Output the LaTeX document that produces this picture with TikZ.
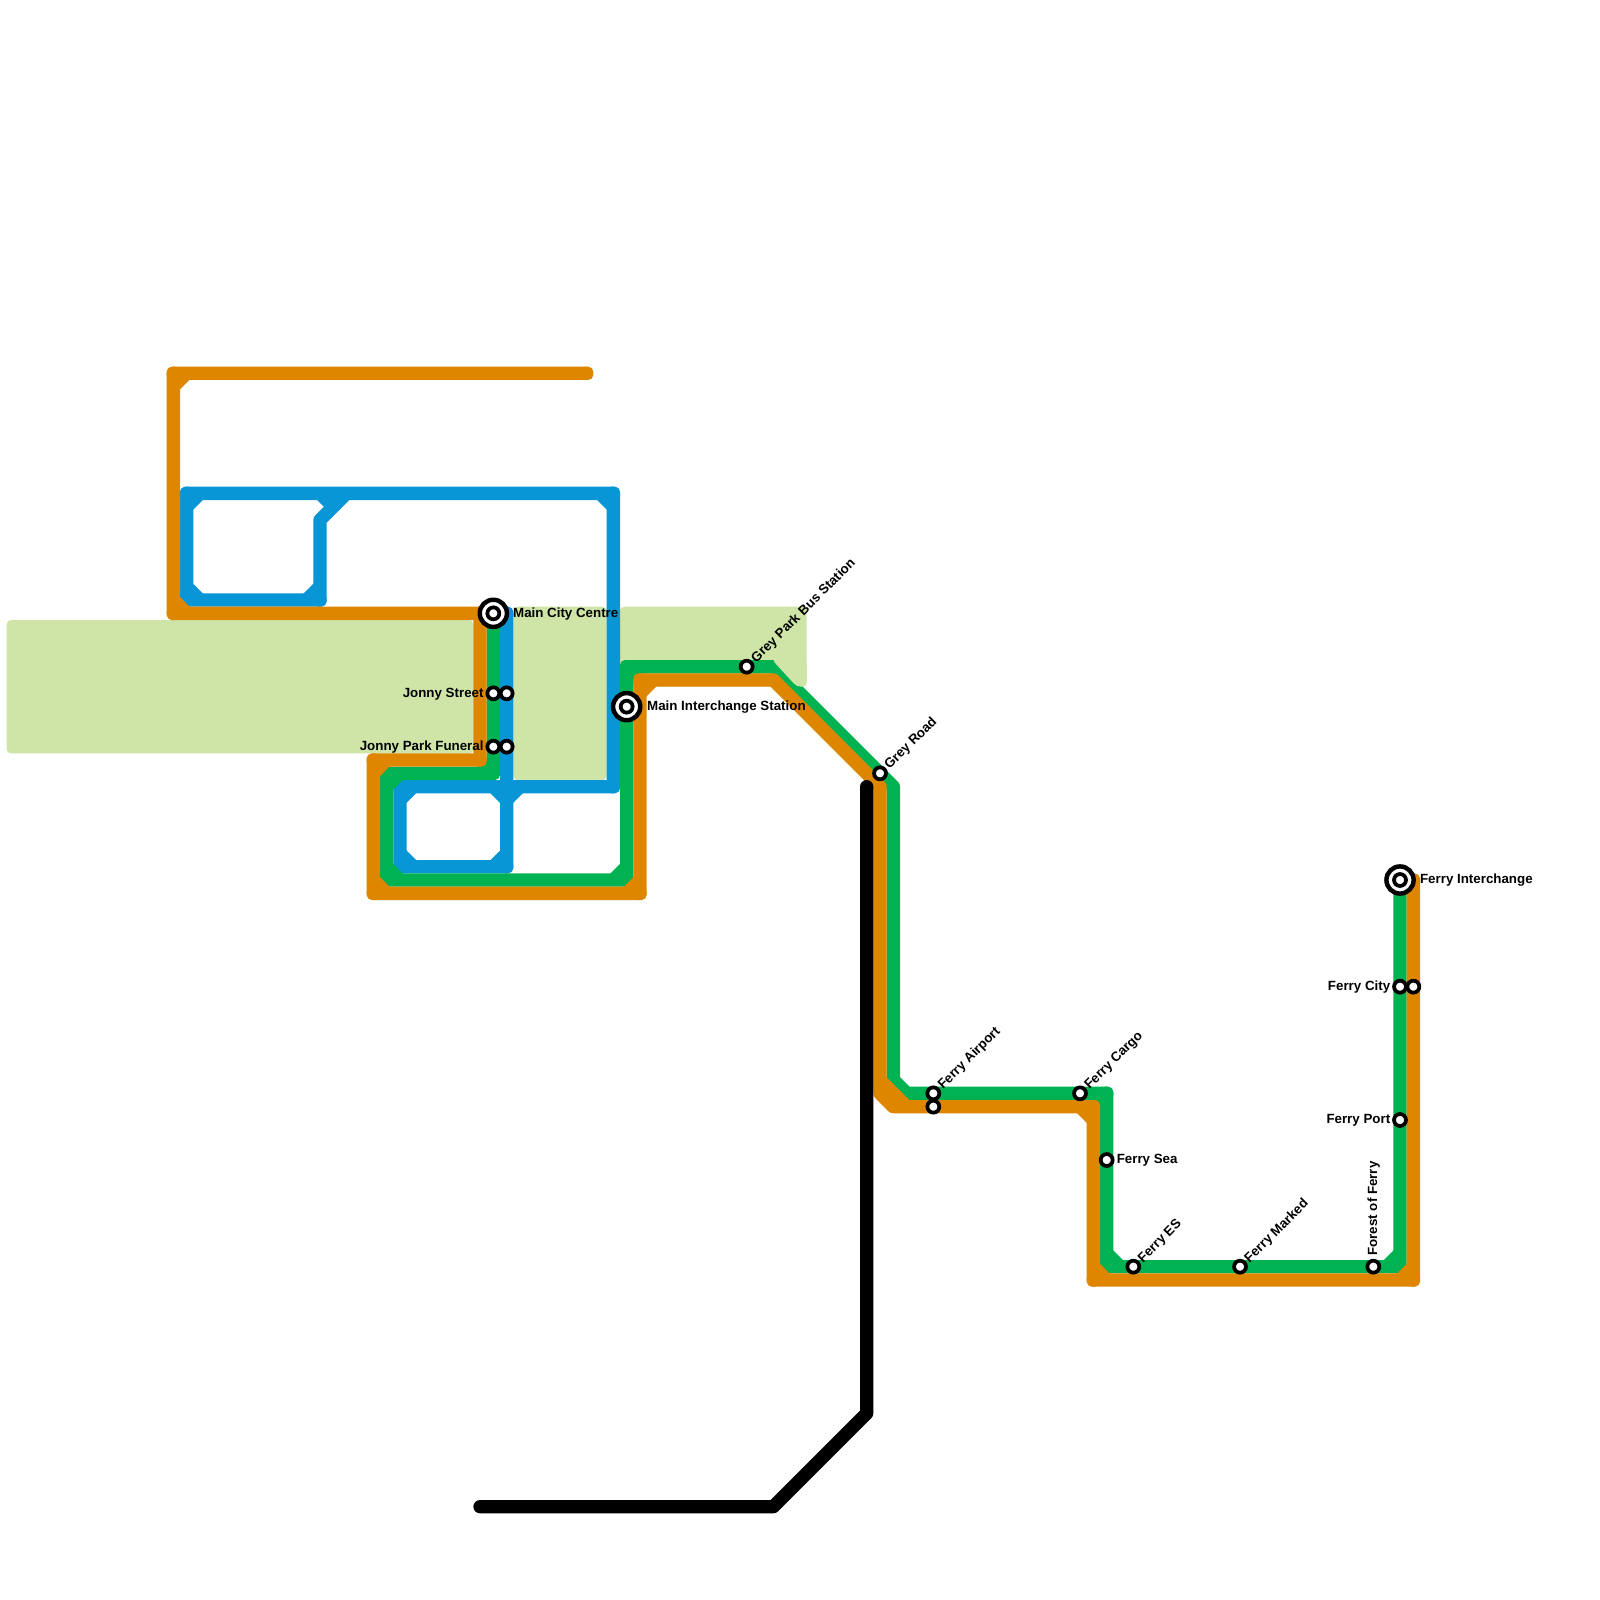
\documentclass[tikz,border=0pt]{standalone}
\usepackage{fontspec}
\setmainfont{Liberation Sans}
\definecolor{mapblue}{HTML}{0896D7}
\definecolor{mapgreen}{HTML}{00B251}
\definecolor{maporange}{HTML}{DF8600}
\definecolor{mappale}{HTML}{CFE4A7}
\tikzset{
  track/.style={line width=0.2cm,line join=round,line cap=butt},
  paleblock/.style={fill=mappale,rounded corners=1.8pt},
  lbl/.style={inner sep=0pt,font=\fontsize{5.69}{6.5}\selectfont\bfseries,text=black,text height=4.07pt,text depth=0pt},
  stopring/.style={circle,draw=black,fill=white,line width=1.6pt,minimum size=5.1pt,inner sep=0pt},
  hubring/.style={circle,draw=black,fill=white,line width=1.9pt,minimum size=11.6pt,inner sep=0pt},
}
\newcommand{\caps}[2]{\foreach \cx/\cy in {#2}{\fill[#1,rounded corners=2.2pt] (\cx-.5,\cy-.5) rectangle (\cx+.5,\cy+.5);}}
\begin{document}
\begin{tikzpicture}[x=0.2cm,y=-0.2cm]
\useasboundingbox (0,0) rectangle (120,120);
\fill[white] (0,0) rectangle (120,120);
% pale park areas
\fill[paleblock] (0.5,46.5) rectangle (35.5,56.5);
\fill[paleblock] (38.5,45.5) rectangle (45.5,58.5);
\fill[paleblock] (46.5,45.5) rectangle (60.5,51.5);
% blue line
\draw[track,mapblue] (38,46) -- (38,65) -- (30,65) -- (30,59) -- (46,59) -- (46,37) -- (14,37) -- (14,45) -- (24,45) -- (24,39) -- (26,37);
\draw[track,mapblue] (14,38)--(15,37) (14,44)--(15,45) (23,45)--(24,44) (24,37)--(25,38) (45,37)--(46,38)
  (30,60)--(31,59) (30,64)--(31,65) (37,65)--(38,64) (37,59)--(38,60)--(39,59);
\caps{mapblue}{38/46,38/65,30/65,30/59,46/59,46/37,14/37,14/45,24/45}
% green line
\draw[track,mapgreen] (37,46) -- (37,58) -- (29,58) -- (29,66) -- (47,66) -- (47,50) -- (58,50) -- (67,59) -- (67,81) -- (68,82) -- (83,82) -- (83,95) -- (105,95) -- (105,66);
\draw[track,mapgreen] (36,58)--(37,57) (29,59)--(30,58) (29,65)--(30,66) (46,66)--(47,65) (47,51)--(48,50)
  (82,82)--(83,83) (83,94)--(84,95) (104,95)--(105,94);
\caps{mapgreen}{37/46,37/58,29/58,29/66,47/66,47/50,83/82,83/95,105/95,105/66}
% pale corner lying over the green diagonal
\fill[paleblock] (57.88,49.45) -- (59.75,51.5) -- (60.5,51.5) -- (60.5,49.45) -- cycle;
% orange line
\draw[track,maporange] (44,28) -- (13,28) -- (13,46) -- (36,46) -- (36,57) -- (28,57) -- (28,67) -- (48,67) -- (48,51) -- (58,51) -- (66,59) -- (66,82) -- (67,83) -- (82,83) -- (82,96) -- (106,96) -- (106,66);
\draw[track,maporange] (13,29)--(14,28) (13,45)--(14,46) (28,58)--(29,57) (28,66)--(29,67) (47,67)--(48,66)
  (48,52)--(49,51) (66,81)--(68,83) (81,83)--(82,84) (82,95)--(83,96) (105,96)--(106,95);
\caps{maporange}{44/28,13/28,13/46,36/46,36/57,28/57,28/67,48/67,48/51,82/83,82/96,106/96,106/66}
% black line
\draw[track,black,line cap=round] (65,59) -- (65,106) -- (58,113) -- (36,113);
% interchange stations
\node[hubring] (mainhub) at (37,46) {};
\node[stopring] (maininner) at (37,46) {};
\node[hubring] (interhub) at (47,53) {};
\node[stopring] (interinner) at (47,53) {};
\node[hubring] (ferryhub) at (105,66) {};
\node[stopring] (ferryinner) at (105,66) {};
% stations
\node[stopring] (jonnyA) at (37,52) {};
\node[stopring] (jonnyB) at (38,52) {};
\node[stopring] (funeralA) at (37,56) {};
\node[stopring] (funeralB) at (38,56) {};
\node[stopring] (busst) at (56,50) {};
\node[stopring] (greyrd) at (66,58) {};
\node[stopring] (airportA) at (70,82) {};
\node[stopring] (airportB) at (70,83) {};
\node[stopring] (cargo) at (81,82) {};
\node[stopring] (sea) at (83,87) {};
\node[stopring] (es) at (85,95) {};
\node[stopring] (marked) at (93,95) {};
\node[stopring] (forest) at (103,95) {};
\node[stopring] (cityA) at (105,74) {};
\node[stopring] (cityB) at (106,74) {};
\node[stopring] (port) at (105,84) {};
% labels
\node[lbl,anchor=west] (lmain) at (38.45,45.93) {Main City Centre};
\node[lbl,anchor=west] (linter) at (48.5,52.93) {Main Interchange Station};
\node[lbl,anchor=east] (ljonny) at (36.3,51.93) {Jonny Street};
\node[lbl,anchor=east] (lfuneral) at (36.3,55.93) {Jonny Park Funeral};
\node[lbl,anchor=west] (lsea) at (83.72,86.93) {Ferry Sea};
\node[lbl,anchor=west] (lferry) at (106.47,65.93) {Ferry Interchange};
\node[lbl,anchor=east] (lcity) at (104.3,73.93) {Ferry City};
\node[lbl,anchor=east] (lport) at (104.3,83.93) {Ferry Port};
\node[lbl,anchor=west,rotate=90] (lforest) at (102.93,94.2) {Forest of Ferry};
\node[lbl,anchor=west,rotate=45] (lbus) at (56.45,49.52) {Grey Park Bus Station};
\node[lbl,anchor=west,rotate=45] (lgrey) at (66.45,57.52) {Grey Road};
\node[lbl,anchor=west,rotate=45] (lairport) at (70.45,81.52) {Ferry Airport};
\node[lbl,anchor=west,rotate=45] (lcargo) at (81.45,81.52) {Ferry Cargo};
\node[lbl,anchor=west,rotate=45] (les) at (85.45,94.52) {Ferry ES};
\node[lbl,anchor=west,rotate=45] (lmarked) at (93.45,94.52) {Ferry Marked};
\end{tikzpicture}
\end{document}
